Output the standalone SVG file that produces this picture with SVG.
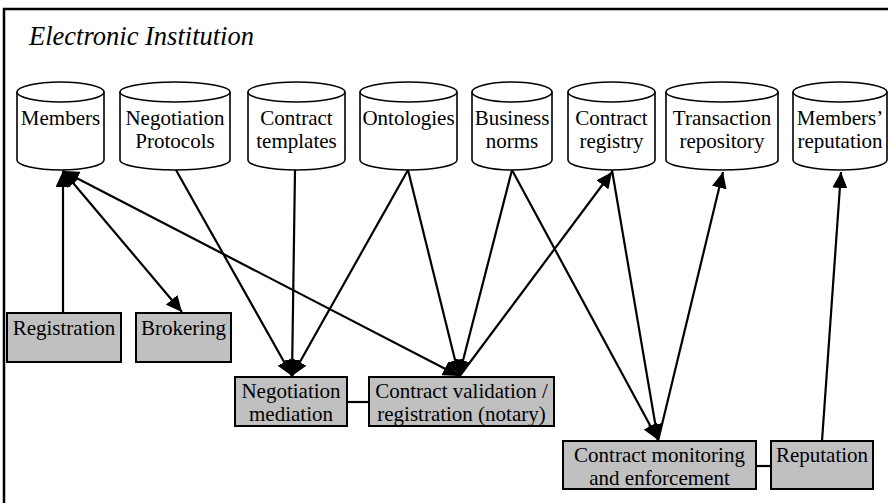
<svg xmlns="http://www.w3.org/2000/svg" width="888" height="503" viewBox="0 0 888 503">
<defs>
<style>
.t{font-family:'Liberation Serif',Tinos,'Times New Roman','DejaVu Serif',serif;font-size:21px;fill:#000;text-anchor:middle}
.title{font-family:'Liberation Serif',Tinos,'Times New Roman','DejaVu Serif',serif;font-size:26.5px;font-style:italic;fill:#000}
.cyl{fill:#fff;stroke:#000;stroke-width:1.6}
.box{fill:#c0c0c0;stroke:#000;stroke-width:2}
.c{stroke:#000;stroke-width:2.2;fill:none}
</style>
<marker id="ah" markerUnits="userSpaceOnUse" markerWidth="17" markerHeight="15" refX="16" refY="7.5" orient="auto-start-reverse">
<path d="M0,0 L16,7.5 L0,15 z" fill="#000"/>
</marker>
</defs>
<rect x="0" y="0" width="888" height="503" fill="#fff"/>
<path d="M4,505 V9 H890" fill="none" stroke="#000" stroke-width="2.5"/>
<text class="title" x="29" y="45">Electronic Institution</text>

<g id="members">
<path class="cyl" d="M17,92 V160 A43.5,10 0 0 0 104,160 V92"/>
<ellipse class="cyl" cx="60.5" cy="92" rx="43.5" ry="10"/>
<text class="t" x="60.5" y="125">Members</text>
</g>
<g id="negotiation-protocols">
<path class="cyl" d="M120,92 V160 A55,10 0 0 0 230,160 V92"/>
<ellipse class="cyl" cx="175" cy="92" rx="55" ry="10"/>
<text class="t" x="175" y="125">Negotiation</text>
<text class="t" x="175" y="148">Protocols</text>
</g>
<g id="contract-templates">
<path class="cyl" d="M248,92 V160 A48.5,10 0 0 0 345,160 V92"/>
<ellipse class="cyl" cx="296.5" cy="92" rx="48.5" ry="10"/>
<text class="t" x="296.5" y="125">Contract</text>
<text class="t" x="296.5" y="148">templates</text>
</g>
<g id="ontologies">
<path class="cyl" d="M360,92 V160 A48.5,10 0 0 0 457,160 V92"/>
<ellipse class="cyl" cx="408.5" cy="92" rx="48.5" ry="10"/>
<text class="t" x="408.5" y="125">Ontologies</text>
</g>
<g id="business-norms">
<path class="cyl" d="M472,92 V160 A40,10 0 0 0 552,160 V92"/>
<ellipse class="cyl" cx="512" cy="92" rx="40" ry="10"/>
<text class="t" x="512" y="125">Business</text>
<text class="t" x="512" y="148">norms</text>
</g>
<g id="contract-registry">
<path class="cyl" d="M568,92 V160 A43.5,10 0 0 0 655,160 V92"/>
<ellipse class="cyl" cx="611.5" cy="92" rx="43.5" ry="10"/>
<text class="t" x="611.5" y="125">Contract</text>
<text class="t" x="611.5" y="148">registry</text>
</g>
<g id="transaction-repository">
<path class="cyl" d="M666,92 V160 A56,10 0 0 0 778,160 V92"/>
<ellipse class="cyl" cx="722" cy="92" rx="56" ry="10"/>
<text class="t" x="722" y="125">Transaction</text>
<text class="t" x="722" y="148">repository</text>
</g>
<g id="members-reputation">
<path class="cyl" d="M793,92 V160 A47,10 0 0 0 887,160 V92"/>
<ellipse class="cyl" cx="840" cy="92" rx="47" ry="10"/>
<text class="t" x="840" y="125">Members’</text>
<text class="t" x="840" y="148">reputation</text>
</g>

<g id="connectors">
<line class="c" x1="63" y1="171" x2="63" y2="313" marker-start="url(#ah)"/>
<line class="c" x1="63" y1="171" x2="182" y2="312" marker-start="url(#ah)" marker-end="url(#ah)"/>
<line class="c" x1="63" y1="171" x2="459" y2="376" marker-start="url(#ah)" marker-end="url(#ah)"/>
<line class="c" x1="176" y1="170" x2="292" y2="376" marker-end="url(#ah)"/>
<line class="c" x1="295" y1="170" x2="292" y2="376" marker-end="url(#ah)"/>
<line class="c" x1="408" y1="170" x2="292" y2="376" marker-end="url(#ah)"/>
<line class="c" x1="408" y1="170" x2="459" y2="376" marker-end="url(#ah)"/>
<line class="c" x1="512" y1="170" x2="459" y2="376" marker-end="url(#ah)"/>
<line class="c" x1="459" y1="377" x2="612" y2="172" marker-end="url(#ah)"/>
<line class="c" x1="512" y1="170" x2="658" y2="440" marker-end="url(#ah)"/>
<line class="c" x1="612" y1="170" x2="658" y2="440" marker-end="url(#ah)"/>
<line class="c" x1="658" y1="441" x2="723" y2="172" marker-end="url(#ah)"/>
<line class="c" x1="822" y1="441" x2="841" y2="172" marker-end="url(#ah)"/>
<line class="c" x1="347" y1="402" x2="369" y2="402"/>
<line class="c" x1="756" y1="466" x2="771" y2="466"/>
</g>

<g id="registration">
<rect class="box" x="7" y="313" width="114" height="49"/>
<text class="t" x="64" y="335">Registration</text>
</g>
<g id="brokering">
<rect class="box" x="136" y="313" width="95" height="49"/>
<text class="t" x="183.5" y="335">Brokering</text>
</g>
<g id="negotiation-mediation">
<rect class="box" x="235" y="377" width="112" height="49"/>
<text class="t" x="291" y="398">Negotiation</text>
<text class="t" x="291" y="421">mediation</text>
</g>
<g id="contract-validation">
<rect class="box" x="369" y="377" width="185" height="49"/>
<text class="t" x="461.5" y="398">Contract validation /</text>
<text class="t" x="461.5" y="421">registration (notary)</text>
</g>
<g id="contract-monitoring">
<rect class="box" x="563" y="441" width="193" height="48"/>
<text class="t" x="659.5" y="462">Contract monitoring</text>
<text class="t" x="659.5" y="485">and enforcement</text>
</g>
<g id="reputation">
<rect class="box" x="771" y="441" width="102" height="48"/>
<text class="t" x="822" y="462">Reputation</text>
</g>
</svg>
